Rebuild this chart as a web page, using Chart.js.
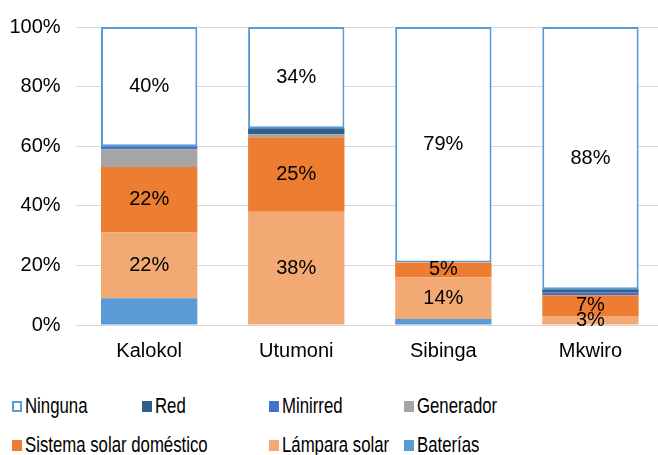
<!DOCTYPE html>
<html>
<head>
<meta charset="utf-8">
<script src="https://cdn.jsdelivr.net/npm/chart.js@4"></script>
<style>
    html, body { margin: 0; padding: 0; background: #fff; overflow: hidden; width: 658px; height: 455px; }
    #wrap { position: absolute; left: 0; top: 0; width: 670px; height: 377px; }
    .leg { position: absolute; font-family: "Liberation Sans", Arial, sans-serif; font-size: 21.5px; line-height: 20px; color: #000; white-space: nowrap; }
    .leg .box { position: absolute; top: 5px; left: 0; width: 10px; height: 11px; box-sizing: border-box; }
    .leg .txt { position: absolute; left: 13px; top: 0; transform: scaleX(0.78); transform-origin: left center; }
</style>
</head>
<body>
<div id="wrap"><canvas id="chart" width="670" height="377"></canvas></div>
<div id="legend"></div>
<script>
document.addEventListener('DOMContentLoaded', function() {
    const categories = ['Kalokol', 'Utumoni', 'Sibinga', 'Mkwiro'];

    // valores en % (de abajo hacia arriba en la pila)
    const baterias = [9, 0, 2, 0];
    const lamparaSolar = [22, 38, 14, 3];
    const sistemaSolar = [22, 25, 5, 7];
    const generador = [6, 1, 0, 0];
    const minirred = [1, 0, 0, 1];
    const red = [0, 2, 0, 1];
    const ninguna = [40, 34, 79, 88];

    const yTicks = [0, 20, 40, 60, 80, 100];

    const font = '"Liberation Sans", Arial, sans-serif';

    function ds(label, data, color, showLabels) {
        return {
            label: label,
            data: data,
            backgroundColor: color,
            borderWidth: 0,
            showLabels: showLabels
        };
    }

    const datasets = [
        ds('Baterías', baterias, '#5B9BD5', false),
        ds('Lámpara solar', lamparaSolar, '#F2A973', true),
        ds('Sistema solar doméstico', sistemaSolar, '#ED7D31', true),
        ds('Generador', generador, '#A5A5A5', false),
        ds('Minirred', minirred, '#4472C4', false),
        ds('Red', red, '#2F5F8F', false),
        {
            label: 'Ninguna',
            data: ninguna,
            backgroundColor: '#FFFFFF',
            borderColor: '#5B9BD5',
            borderWidth: 2,
            borderSkipped: false,
            showLabels: true
        }
    ];

    // etiquetas de porcentaje dentro de las barras
    const barLabels = {
        id: 'barLabels',
        afterDatasetsDraw(chart) {
            const ctx = chart.ctx;
            ctx.save();
            ctx.font = '20px ' + font;
            ctx.fillStyle = '#000';
            ctx.textAlign = 'center';
            ctx.textBaseline = 'middle';
            chart.data.datasets.forEach((d, i) => {
                if (!d.showLabels) return;
                chart.getDatasetMeta(i).data.forEach((bar, j) => {
                    const v = d.data[j];
                    if (v < 3) return;
                    ctx.fillText(v + '%', bar.x, (bar.y + bar.base) / 2);
                });
            });
            ctx.restore();
        }
    };

    new Chart(document.getElementById('chart'), {
        type: 'bar',
        data: { labels: categories, datasets: datasets },
        options: {
            responsive: false,
            animation: false,
            devicePixelRatio: 1,
            layout: { padding: { top: 27, right: 6, bottom: 0, left: 0 } },
            datasets: { bar: { categoryPercentage: 1, barPercentage: 0.655 } },
            scales: {
                x: {
                    stacked: true,
                    grid: { display: false, drawTicks: false },
                    border: { display: false },
                    ticks: { color: '#000', padding: 14, font: { family: font, size: 20 } }
                },
                y: {
                    stacked: true,
                    min: 0,
                    max: 100,
                    afterFit: (axis) => { axis.width = 75.6; },
                    afterBuildTicks: (axis) => { axis.ticks = yTicks.map(v => ({ value: v })); },
                    grid: { color: '#D9D9D9', lineWidth: 1, drawTicks: false },
                    border: { display: false },
                    ticks: {
                        color: '#000',
                        padding: 15,
                        font: { family: font, size: 20 },
                        callback: (v) => v + '%'
                    }
                }
            },
            plugins: {
                legend: { display: false },
                tooltip: { enabled: false }
            }
        },
        plugins: [barLabels]
    });

    // leyenda en dos filas como en el original
    const legendItems = [
        { label: 'Ninguna', fill: '#FFFFFF', border: '#5B9BD5', x: 12, y: 396 },
        { label: 'Red', fill: '#2F5F8F', x: 142, y: 396 },
        { label: 'Minirred', fill: '#4472C4', x: 269, y: 396 },
        { label: 'Generador', fill: '#A5A5A5', x: 404, y: 396 },
        { label: 'Sistema solar doméstico', fill: '#ED7D31', x: 12, y: 435 },
        { label: 'Lámpara solar', fill: '#F2A973', x: 269, y: 435 },
        { label: 'Baterías', fill: '#5B9BD5', x: 404, y: 435 }
    ];
    const legend = document.getElementById('legend');
    legendItems.forEach(item => {
        const el = document.createElement('div');
        el.className = 'leg';
        el.style.left = item.x + 'px';
        el.style.top = item.y + 'px';
        const box = document.createElement('span');
        box.className = 'box';
        box.style.background = item.fill;
        if (item.border) box.style.border = '2px solid ' + item.border;
        const txt = document.createElement('span');
        txt.className = 'txt';
        txt.textContent = item.label;
        el.appendChild(box);
        el.appendChild(txt);
        legend.appendChild(el);
    });
});
</script>
</body>
</html>
